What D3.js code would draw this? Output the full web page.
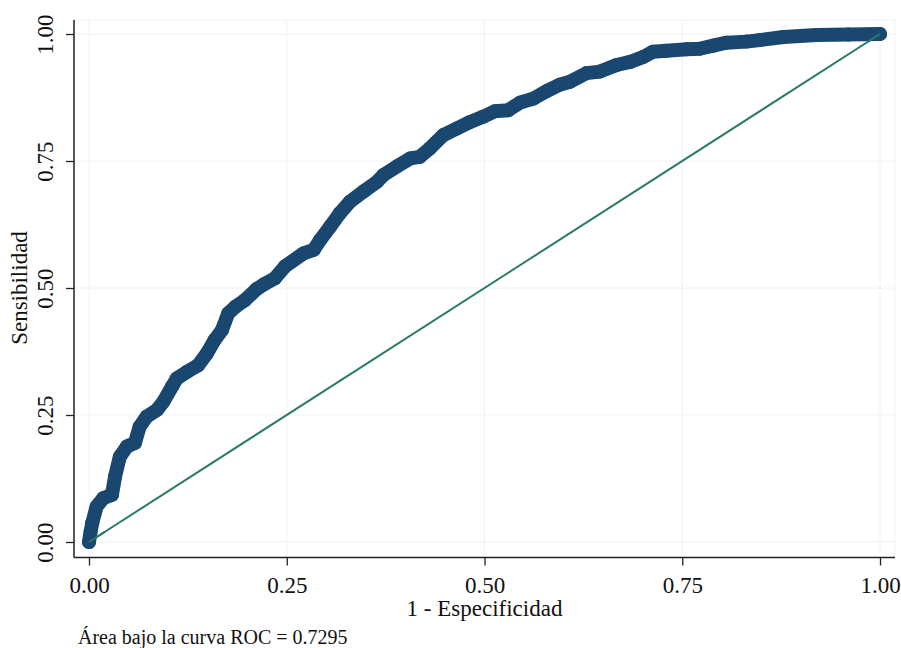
<!DOCTYPE html>
<html>
<head>
<meta charset="utf-8">
<script src="https://cdn.jsdelivr.net/npm/d3@7"></script>
<style>
  body { margin: 0; background: #fff; }
  text { font-family: "Liberation Serif", "Times New Roman", serif; fill: #111; }
</style>
</head>
<body>
<div id="chart-area"></div>
<script>
// ROC curve points
var fpr = [0, 0.002, 0.004, 0.0097, 0.018, 0.029, 0.033, 0.039, 0.048, 0.058,
  0.064, 0.073, 0.086, 0.094, 0.105, 0.111, 0.124, 0.138, 0.149, 0.159,
  0.168, 0.176, 0.185, 0.197, 0.212, 0.222, 0.235, 0.248, 0.271, 0.284,
  0.292, 0.305, 0.317, 0.330, 0.347, 0.364, 0.372, 0.389, 0.406, 0.418,
  0.431, 0.448, 0.465, 0.482, 0.498, 0.513, 0.530, 0.545, 0.562, 0.579,
  0.595, 0.608, 0.629, 0.646, 0.667, 0.684, 0.701, 0.713, 0.730, 0.756,
  0.772, 0.789, 0.806, 0.831, 0.848, 0.878, 0.920, 0.960, 1]
var tpr = [0, 0.020, 0.037, 0.070, 0.086, 0.093, 0.129, 0.168, 0.188, 0.195,
  0.227, 0.247, 0.260, 0.276, 0.306, 0.322, 0.335, 0.348, 0.371, 0.398,
  0.417, 0.450, 0.463, 0.476, 0.498, 0.508, 0.519, 0.543, 0.568, 0.575,
  0.594, 0.621, 0.647, 0.670, 0.690, 0.709, 0.722, 0.739, 0.755, 0.758,
  0.775, 0.801, 0.814, 0.827, 0.837, 0.848, 0.850, 0.865, 0.873, 0.888,
  0.900, 0.906, 0.923, 0.926, 0.939, 0.945, 0.955, 0.965, 0.967, 0.970,
  0.971, 0.977, 0.983, 0.985, 0.988, 0.994, 0.998, 0.999, 1]
var tickValues = [0, 0.25, 0.5, 0.75, 1]
var xTitle = "1 - Especificidad"
var yTitle = "Sensibilidad"
var note = "Área bajo la curva ROC = 0.7295"

var canvasWidth = 901
var canvasHeight = 648
var region = {left: 74, right: 895, top: 20, bottom: 557.5}

var x = d3.scaleLinear().domain([0, 1]).range([89, 880])
var y = d3.scaleLinear().domain([0, 1]).range([542, 34])

var svg = d3.select("#chart-area")
	.append("svg")
	.attr("width", canvasWidth)
	.attr("height", canvasHeight)

// faint plot region border + grid
svg.append("rect")
	.attr("x", region.left)
	.attr("y", region.top)
	.attr("width", region.right - region.left)
	.attr("height", region.bottom - region.top)
	.attr("fill", "none")
	.attr("stroke", "#eef2f4")

svg.append("g").selectAll("line.gx")
	.data(tickValues)
	.enter().append("line")
		.attr("x1", function(d){ return x(d) })
		.attr("x2", function(d){ return x(d) })
		.attr("y1", region.top)
		.attr("y2", region.bottom)
		.attr("stroke", "#eef2f4")

svg.append("g").selectAll("line.gy")
	.data(tickValues)
	.enter().append("line")
		.attr("x1", region.left)
		.attr("x2", region.right)
		.attr("y1", function(d){ return y(d) })
		.attr("y2", function(d){ return y(d) })
		.attr("stroke", "#eef2f4")

// axes
var xAxis = svg.append("g")
	.attr("transform", "translate(0," + region.bottom + ")")
	.call(d3.axisBottom(x).tickValues(tickValues).tickSize(8).tickFormat(d3.format(".2f")))
xAxis.select(".domain").attr("d", "M" + region.left + ",0H" + region.right)
xAxis.selectAll("line").attr("stroke", "#222").attr("stroke-width", 1.3)
xAxis.select(".domain").attr("stroke", "#222").attr("stroke-width", 1.5)
xAxis.selectAll("text")
	.attr("y", 35).attr("dy", 0)
	.attr("font-size", "23px")
	.attr("fill", "#111")

var yAxis = svg.append("g")
	.attr("transform", "translate(" + region.left + ",0)")
	.call(d3.axisLeft(y).tickValues(tickValues).tickSize(8).tickFormat(d3.format(".2f")))
yAxis.select(".domain").attr("d", "M0," + region.top + "V" + region.bottom)
yAxis.selectAll("line").attr("stroke", "#222").attr("stroke-width", 1.3)
yAxis.select(".domain").attr("stroke", "#222").attr("stroke-width", 1.5)
yAxis.selectAll("text")
	.attr("x", 0).attr("dy", 0)
	.attr("transform", "translate(-21,0) rotate(-90)")
	.attr("text-anchor", "middle")
	.attr("font-size", "23px")
	.attr("fill", "#111")

// reference line
svg.append("line")
	.attr("x1", x(0)).attr("y1", y(0))
	.attr("x2", x(1)).attr("y2", y(1))
	.attr("stroke", "#2a7a68")
	.attr("stroke-width", 2)

// ROC curve: heavy markers joined by a thick band
var pts = fpr.map(function(d, i){ return [d, tpr[i]] })
var line = d3.line()
	.x(function(d){ return x(d[0]) })
	.y(function(d){ return y(d[1]) })

svg.append("path")
	.datum(pts)
	.attr("d", line)
	.attr("fill", "none")
	.attr("stroke", "#1a476f")
	.attr("stroke-width", 14)
	.attr("stroke-linejoin", "round")
	.attr("stroke-linecap", "round")

svg.append("g").selectAll("circle")
	.data(pts)
	.enter().append("circle")
		.attr("cx", function(d){ return x(d[0]) })
		.attr("cy", function(d){ return y(d[1]) })
		.attr("r", 7)
		.attr("fill", "#1a476f")

// reference line shows over the markers near the ends
svg.append("line")
	.attr("x1", x(0)).attr("y1", y(0))
	.attr("x2", x(0.02)).attr("y2", y(0.02))
	.attr("stroke", "#2a7a68")
	.attr("stroke-width", 2)
svg.append("line")
	.attr("x1", x(0.985)).attr("y1", y(0.985))
	.attr("x2", x(1)).attr("y2", y(1))
	.attr("stroke", "#2a7a68")
	.attr("stroke-width", 2)

// titles
svg.append("text")
	.attr("x", x(0.5))
	.attr("y", 616)
	.attr("text-anchor", "middle")
	.attr("font-size", "23px")
	.text(xTitle)

svg.append("text")
	.attr("transform", "translate(27," + y(0.5) + ") rotate(-90)")
	.attr("text-anchor", "middle")
	.attr("font-size", "23px")
	.text(yTitle)

svg.append("text")
	.attr("x", 78)
	.attr("y", 644)
	.attr("font-size", "20px")
	.text(note)
</script>
</body>
</html>
